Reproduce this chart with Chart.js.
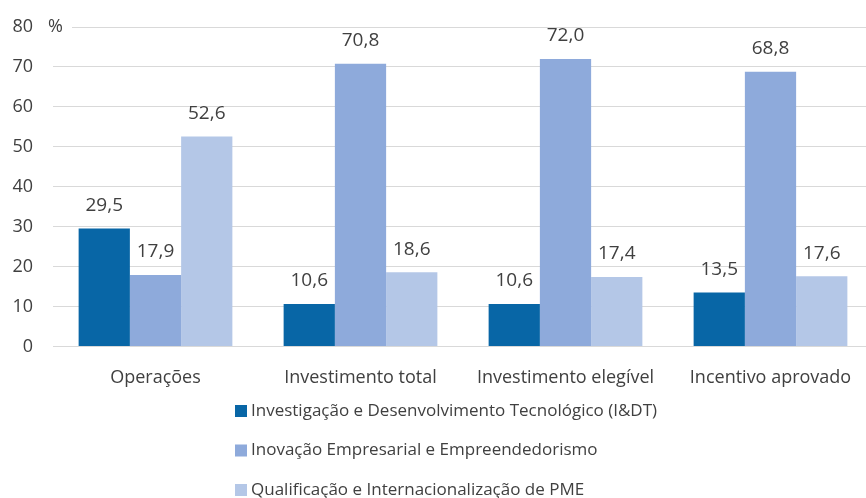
<!DOCTYPE html>
<html>
<head>
<meta charset="utf-8">
<script src="https://cdn.jsdelivr.net/npm/chart.js@4.4.0/dist/chart.umd.min.js"></script>
<style>
  html, body { margin: 0; padding: 0; background: #fff; overflow: hidden; }
  #wrap { width: 875px; height: 498px; }
</style>
</head>
<body>
<div id="wrap"><canvas id="barChart"></canvas></div>
<script>
// values (%)
const categories = ['Operações', 'Investimento total', 'Investimento elegível', 'Incentivo aprovado'];
const seriesNames = [
    'Investigação e Desenvolvimento Tecnológico (I&DT)',
    'Inovação Empresarial e Empreendedorismo',
    'Qualificação e Internacionalização de PME'
];
const idtValues = [29.5, 10.6, 10.6, 13.5];
const inovValues = [17.9, 70.8, 72.0, 68.8];
const qualValues = [52.6, 18.6, 17.4, 17.6];
const yTicks = [0, 10, 20, 30, 40, 50, 60, 70, 80];

const colors = ['#0866a6', '#8eaadb', '#b4c7e7'];
const fontFamily = '"Open Sans", sans-serif';
const textColor = '#404040';

const fmt = v => v.toFixed(1).replace('.', ',');

// value labels above each bar
const barLabels = {
    id: 'barLabels',
    afterDatasetsDraw(chart) {
        const ctx = chart.ctx;
        ctx.save();
        ctx.font = '19px ' + fontFamily;
        ctx.fillStyle = textColor;
        ctx.textAlign = 'center';
        ctx.textBaseline = 'middle';
        chart.data.datasets.forEach((ds, i) => {
            chart.getDatasetMeta(i).data.forEach((bar, j) => {
                ctx.fillText(fmt(ds.data[j]), bar.x, bar.y - 23);
            });
        });
        ctx.restore();
    }
};

// "%" unit next to the top tick, and a vertical legend under the axis
const extras = {
    id: 'extras',
    afterDraw(chart) {
        const ctx = chart.ctx;
        const y = chart.scales.y;
        const top = y.getPixelForValue(80);
        ctx.save();
        ctx.fillStyle = '#fff';
        ctx.fillRect(chart.chartArea.left - 1, top - 10, 20, 20);
        ctx.font = '18px ' + fontFamily;
        ctx.fillStyle = textColor;
        ctx.textBaseline = 'middle';
        ctx.fillText('%', 48, top);

        ctx.font = '17px ' + fontFamily;
        chart.data.datasets.forEach((ds, i) => {
            const cy = 411 + i * 39.5;
            ctx.fillStyle = ds.backgroundColor;
            ctx.fillRect(235, cy - 6, 12, 12);
            ctx.fillStyle = textColor;
            ctx.fillText(ds.label, 251, cy);
        });
        ctx.restore();
    }
};

new Chart(document.getElementById('barChart'), {
    type: 'bar',
    data: {
        labels: categories,
        datasets: [idtValues, inovValues, qualValues].map((vals, i) => ({
            label: seriesNames[i],
            data: vals,
            backgroundColor: colors[i],
            categoryPercentage: 0.75,
            barPercentage: 1.0
        }))
    },
    options: {
        responsive: true,
        maintainAspectRatio: false,
        animation: false,
        layout: { padding: { top: 27, left: 0, right: 2, bottom: 96 } },
        plugins: {
            legend: { display: false },
            tooltip: { enabled: false }
        },
        scales: {
            x: {
                grid: { display: false },
                border: { color: '#d9d9d9' },
                ticks: { color: textColor, font: { family: fontFamily, size: 18 }, padding: 13 }
            },
            y: {
                min: 0,
                max: 80,
                afterBuildTicks: s => { s.ticks = yTicks.map(v => ({ value: v })); },
                afterFit: s => { s.width = 53; s.paddingTop = 0; },
                grid: { color: '#d9d9d9', drawTicks: false },
                border: { display: false },
                ticks: { color: textColor, font: { family: fontFamily, size: 18 }, padding: 20 }
            }
        }
    },
    plugins: [barLabels, extras]
});
</script>
</body>
</html>
